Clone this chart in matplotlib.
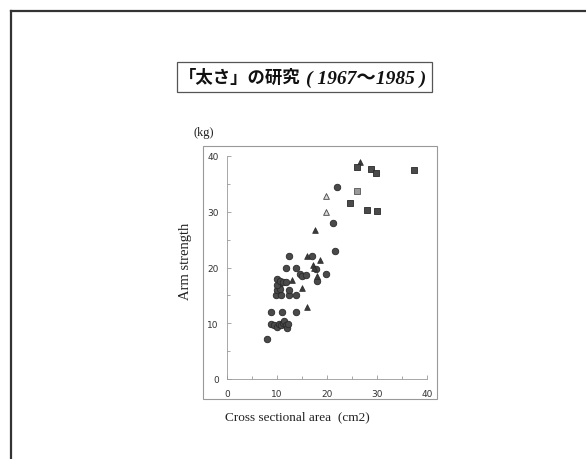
import matplotlib
matplotlib.use("Agg")
import matplotlib.pyplot as plt
from matplotlib.patches import Rectangle
from matplotlib.lines import Line2D

# data: cross sectional area (cm2) vs arm strength (kg)
circle_x = [7.9, 8.7, 9.3, 9.9, 10.3, 10.7, 11.1, 11.4, 11.7, 12.0, 12.1,
            8.8, 10.9, 13.8, 9.8, 10.7, 12.3, 13.7, 12.3,
            9.9, 10.3, 10.6, 9.9, 10.0, 10.5, 11.1, 11.8,
            11.8, 12.4, 13.8, 14.5, 15.0, 15.8, 16.9, 17.7, 18.0,
            19.8, 21.5, 21.2, 22.0]
circle_y = [7.2, 9.9, 9.7, 9.3, 9.8, 9.6, 10.1, 10.4, 9.6, 9.2, 9.9,
            12.0, 12.0, 12.0, 15.0, 15.0, 15.0, 15.0, 15.9,
            16.0, 16.6, 16.2, 16.9, 17.9, 17.5, 17.4, 17.4,
            20.0, 22.0, 20.0, 18.9, 18.4, 18.7, 22.0, 19.7, 17.5,
            18.8, 23.0, 27.9, 34.5]

tri_x = [16.0, 15.0, 13.0, 15.9, 17.1, 17.4, 18.0, 18.6, 17.5, 26.5]
tri_y = [13.0, 16.3, 17.8, 22.0, 20.5, 19.9, 18.4, 21.4, 26.7, 39.0]

open_tri_x = [19.7, 19.7]
open_tri_y = [30.0, 32.9]

square_x = [26.0, 28.8, 29.8, 37.4, 24.6, 27.9, 29.9]
square_y = [38.0, 37.7, 36.9, 37.5, 31.5, 30.4, 30.2]

light_square_x = [26.0]
light_square_y = [33.8]

xticks = [0, 10, 20, 30, 40]
yticks = [0, 10, 20, 30, 40]

W, H = 586, 460
fig = plt.figure(figsize=(W / 100, H / 100), dpi=100)

def fx(px):
    return px / W

def fy(py):
    return 1 - py / H

# slide frame (top and left edges)
fig.add_artist(Line2D([fx(11), 1.0], [fy(12), fy(12)], color="#333333", lw=1.6))
fig.add_artist(Line2D([fx(11), fx(11)], [fy(12), 0.0], color="#333333", lw=1.6))

# title box
fig.add_artist(Rectangle((fx(177), fy(93)), fx(432) - fx(177), fy(63) - fy(93),
                         fill=False, edgecolor="#555555", lw=0.9))
fig.text(fx(179), fy(78), "「太さ」の研究", family=["Noto Sans CJK JP", "DejaVu Sans"],
         fontsize=12.5, fontweight="bold", ha="left", va="center", color="#111111")
fig.text(fx(306), fy(79), "( 1967～1985 )",
         family=["Liberation Serif", "Noto Sans CJK JP"], style="italic",
         fontweight="bold", fontsize=14, ha="left", va="center", color="#111111")

# grey frame around the graph
fig.add_artist(Rectangle((fx(203), fy(400)), fx(437) - fx(203), fy(147) - fy(400),
                         fill=False, edgecolor="#999999", lw=0.8))

ax = fig.add_axes([fx(227), fy(380), fx(427) - fx(227), fy(157) - fy(380)])
ax.set_xlim(0, 40)
ax.set_ylim(0, 40)
ax.patch.set_alpha(0)
for s in ["top", "right"]:
    ax.spines[s].set_visible(False)
for s in ["left", "bottom"]:
    ax.spines[s].set_color("#999999")
    ax.spines[s].set_linewidth(0.6)
ax.set_xticks(xticks)
ax.set_yticks(yticks)
ax.set_xticks([5, 15, 25, 35], minor=True)
ax.set_yticks([5, 15, 25, 35], minor=True)
ax.tick_params(which="both", direction="in", color="#999999", width=0.6)
ax.tick_params(which="major", length=3, labelsize=6.5, labelcolor="#333333")
ax.tick_params(which="minor", length=2)
ax.tick_params(axis="x", pad=7)
ax.tick_params(axis="y", pad=6)

ax.scatter(circle_x, circle_y, s=22, marker="o", facecolor="#4a4a4a",
           edgecolor="#2a2a2a", linewidths=0.6, clip_on=False, zorder=3)
ax.scatter(tri_x, tri_y, s=17, marker="^", facecolor="#3a3a3a",
           edgecolor="#2a2a2a", linewidths=0.5, clip_on=False, zorder=3)
ax.scatter(open_tri_x, open_tri_y, s=17, marker="^", facecolor="#dddddd",
           edgecolor="#555555", linewidths=0.7, clip_on=False, zorder=3)
ax.scatter(square_x, square_y, s=20, marker="s", facecolor="#4a4a4a",
           edgecolor="#2a2a2a", linewidths=0.6, clip_on=False, zorder=3)
ax.scatter(light_square_x, light_square_y, s=20, marker="s", facecolor="#999999",
           edgecolor="#555555", linewidths=0.6, clip_on=False, zorder=3)

serif = ["Liberation Serif", "Noto Sans CJK JP"]
fig.text(fx(193), fy(133), "(kg)", family=serif, fontsize=9, ha="left",
         va="center", color="#222222")
fig.text(fx(185), fy(261), "Arm strength", family=serif, fontsize=10.5,
         rotation=90, ha="center", va="center", color="#222222")
fig.text(fx(297), fy(417), "Cross sectional area  (cm2)", family=serif,
         fontsize=9.5, ha="center", va="center", color="#222222")

fig.savefig("out.png", dpi=100)
